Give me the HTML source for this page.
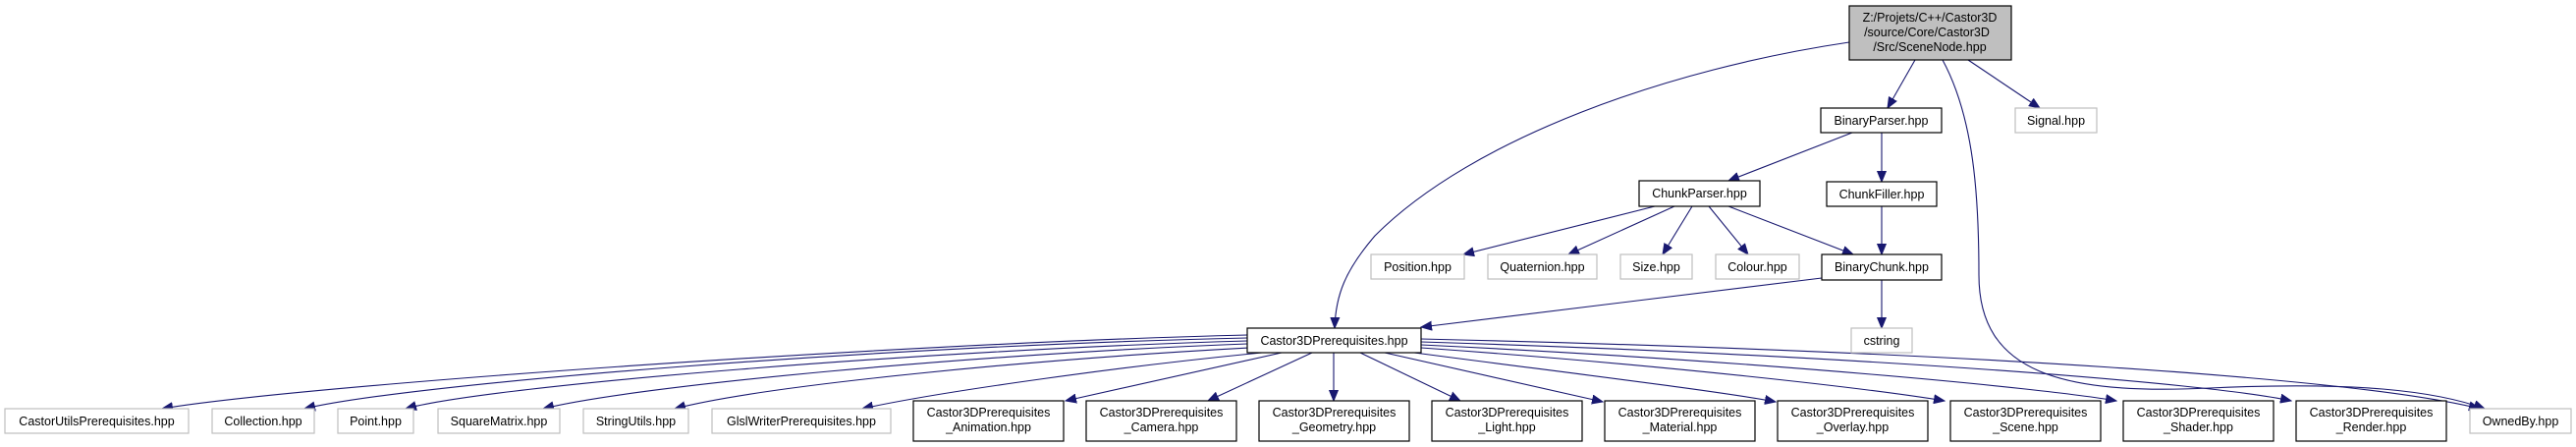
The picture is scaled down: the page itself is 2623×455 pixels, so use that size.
<!DOCTYPE html>
<html><head><meta charset="utf-8"><style>
html,body{margin:0;padding:0;background:#fff;}
svg{display:block;}
text{font-family:"Liberation Sans",Arial,sans-serif;font-size:12.5px;fill:#000;}
.g{fill:#fff;stroke:#bfbfbf;stroke-width:1.2;}
.b{fill:#fff;stroke:#000;stroke-width:1.2;}
.e{fill:none;stroke:#191970;stroke-width:1.1;}
</style></head><body>
<svg width="2623" height="455" viewBox="0 0 2623 455" xmlns="http://www.w3.org/2000/svg">
<defs>
<marker id="a" markerUnits="userSpaceOnUse" markerWidth="12" markerHeight="10" refX="11" refY="5" orient="auto">
<path d="M0,0.5 L11,5 L0,9.5 z" fill="#191970" stroke="#191970"/>
</marker>
</defs>

<!-- edges -->
<g class="e" marker-end="url(#a)">
<path d="M1950,61 L1922,110"/>
<path d="M2004,61 L2077,110"/>
<path d="M1978,61 C2010,120 2015,200 2015,280 C2015,380 2100,402 2250,395 C2400,388 2480,398 2530,416"/>
<path d="M1883,43 C1700,70 1500,140 1400,240 C1370,275 1360,300 1359,334"/>
<path d="M1886,135 L1760,184"/>
<path d="M1916,135 L1916,185"/>
<path d="M1916,210 L1916,259"/>
<path d="M1916,285 L1916,334"/>
<path d="M1685,210 L1490,259"/>
<path d="M1705,210 L1597,259"/>
<path d="M1723,210 L1693,259"/>
<path d="M1740,210 L1780,259"/>
<path d="M1760,210 L1887,259"/>
<path d="M1855,283 L1447,333"/>

<path d="M1270,341 C900,350 300,393 165,416"/>
<path d="M1270,344 C900,352 420,390 310,416"/>
<path d="M1270,347 C950,356 500,392 413,416"/>
<path d="M1270,350 C1000,360 650,392 553,416"/>
<path d="M1272,354 C1050,366 780,392 687,416"/>
<path d="M1285,359 C1150,372 960,398 878,416"/>
<path d="M1305,359 L1085,408"/>
<path d="M1336,359 L1230,408"/>
<path d="M1358,359 L1358,408"/>
<path d="M1385,359 L1487,408"/>
<path d="M1410,359 L1632,409"/>
<path d="M1440,359 C1600,380 1750,398 1808,409"/>
<path d="M1447,354 C1700,372 1900,395 1980,408"/>
<path d="M1447,351 C1800,368 2080,395 2155,408"/>
<path d="M1447,348 C1900,362 2250,390 2333,408"/>
<path d="M1447,345 C2000,358 2400,385 2525,416"/>
</g>

<!-- nodes -->
<rect x="1883" y="6" width="165" height="55" fill="#bfbfbf" stroke="#000" stroke-width="1.2"/>
<text x="1965" y="22" text-anchor="middle">Z:/Projets/C++/Castor3D</text>
<text x="1962" y="37" text-anchor="middle">/source/Core/Castor3D</text>
<text x="1965" y="52" text-anchor="middle">/Src/SceneNode.hpp</text>

<rect class="b" x="1854" y="110" width="123" height="25"/><text x="1915.5" y="127" text-anchor="middle">BinaryParser.hpp</text>
<rect class="g" x="2052" y="110" width="83" height="25"/><text x="2093.5" y="127" text-anchor="middle">Signal.hpp</text>
<rect class="b" x="1669" y="184" width="123" height="26"/><text x="1730.5" y="201" text-anchor="middle">ChunkParser.hpp</text>
<rect class="b" x="1860" y="185" width="112" height="25"/><text x="1916" y="202" text-anchor="middle">ChunkFiller.hpp</text>
<rect class="g" x="1396" y="259" width="95" height="25"/><text x="1443.5" y="276" text-anchor="middle">Position.hpp</text>
<rect class="g" x="1515" y="259" width="111" height="25"/><text x="1570.5" y="276" text-anchor="middle">Quaternion.hpp</text>
<rect class="g" x="1650" y="259" width="73" height="25"/><text x="1686.5" y="276" text-anchor="middle">Size.hpp</text>
<rect class="g" x="1747" y="259" width="85" height="25"/><text x="1789.5" y="276" text-anchor="middle">Colour.hpp</text>
<rect class="b" x="1855" y="259" width="122" height="26"/><text x="1916" y="276" text-anchor="middle">BinaryChunk.hpp</text>
<rect class="g" x="1885" y="334" width="62" height="25"/><text x="1916" y="351" text-anchor="middle">cstring</text>
<rect class="b" x="1270" y="334" width="177" height="25"/><text x="1358.5" y="351" text-anchor="middle">Castor3DPrerequisites.hpp</text>

<rect class="g" x="5" y="416" width="187" height="25"/><text x="98.5" y="433" text-anchor="middle">CastorUtilsPrerequisites.hpp</text>
<rect class="g" x="216" y="416" width="104" height="25"/><text x="268" y="433" text-anchor="middle">Collection.hpp</text>
<rect class="g" x="344" y="416" width="77" height="25"/><text x="382.5" y="433" text-anchor="middle">Point.hpp</text>
<rect class="g" x="446" y="416" width="124" height="25"/><text x="508" y="433" text-anchor="middle">SquareMatrix.hpp</text>
<rect class="g" x="594" y="416" width="107" height="25"/><text x="647.5" y="433" text-anchor="middle">StringUtils.hpp</text>
<rect class="g" x="725" y="416" width="182" height="25"/><text x="816" y="433" text-anchor="middle">GlslWriterPrerequisites.hpp</text>

<rect class="b" x="930" y="408" width="153" height="41"/><text x="1006.5" y="424" text-anchor="middle">Castor3DPrerequisites</text><text x="1006.5" y="439" text-anchor="middle">_Animation.hpp</text>
<rect class="b" x="1106" y="408" width="153" height="41"/><text x="1182.5" y="424" text-anchor="middle">Castor3DPrerequisites</text><text x="1182.5" y="439" text-anchor="middle">_Camera.hpp</text>
<rect class="b" x="1282" y="408" width="153" height="41"/><text x="1358.5" y="424" text-anchor="middle">Castor3DPrerequisites</text><text x="1358.5" y="439" text-anchor="middle">_Geometry.hpp</text>
<rect class="b" x="1458" y="408" width="153" height="41"/><text x="1534.5" y="424" text-anchor="middle">Castor3DPrerequisites</text><text x="1534.5" y="439" text-anchor="middle">_Light.hpp</text>
<rect class="b" x="1634" y="408" width="153" height="41"/><text x="1710.5" y="424" text-anchor="middle">Castor3DPrerequisites</text><text x="1710.5" y="439" text-anchor="middle">_Material.hpp</text>
<rect class="b" x="1810" y="408" width="153" height="41"/><text x="1886.5" y="424" text-anchor="middle">Castor3DPrerequisites</text><text x="1886.5" y="439" text-anchor="middle">_Overlay.hpp</text>
<rect class="b" x="1986" y="408" width="153" height="41"/><text x="2062.5" y="424" text-anchor="middle">Castor3DPrerequisites</text><text x="2062.5" y="439" text-anchor="middle">_Scene.hpp</text>
<rect class="b" x="2162" y="408" width="153" height="41"/><text x="2238.5" y="424" text-anchor="middle">Castor3DPrerequisites</text><text x="2238.5" y="439" text-anchor="middle">_Shader.hpp</text>
<rect class="b" x="2338" y="408" width="153" height="41"/><text x="2414.5" y="424" text-anchor="middle">Castor3DPrerequisites</text><text x="2414.5" y="439" text-anchor="middle">_Render.hpp</text>
<rect class="g" x="2515" y="416" width="103" height="25"/><text x="2566.5" y="433" text-anchor="middle">OwnedBy.hpp</text>
</svg>
</body></html>
